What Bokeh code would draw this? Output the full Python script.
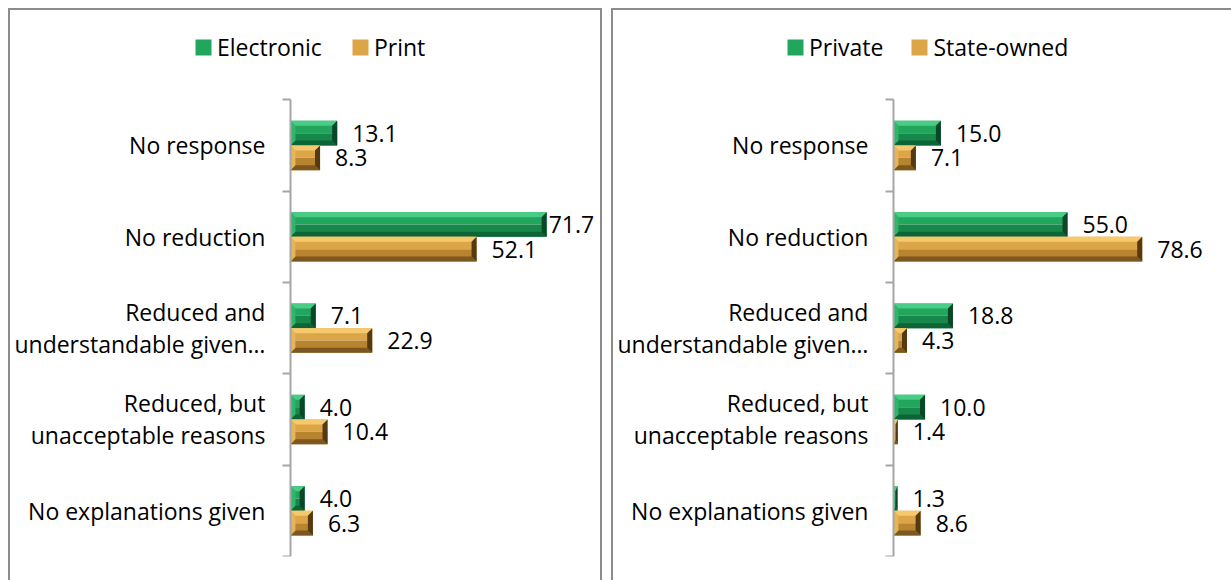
from bokeh.plotting import figure
from bokeh.models import Range1d, FixedTicker, Legend, LegendItem
from bokeh.layouts import row
from bokeh.embed import file_html
from bokeh.resources import INLINE
from bokeh.core.properties import value

# ---------------- data ----------------
categories = [
    "No response",
    "No reduction",
    "Reduced and\nunderstandable given…",
    "Reduced, but\nunacceptable reasons",
    "No explanations given",
]
left_series = ["Electronic", "Print"]
electronic = [13.1, 71.7, 7.1, 4.0, 4.0]
print_media = [8.3, 52.1, 22.9, 10.4, 6.3]

right_series = ["Private", "State-owned"]
private = [15.0, 55.0, 18.8, 10.0, 1.3]
state_owned = [7.1, 78.6, 4.3, 1.4, 8.6]

# ---------------- styles ----------------
FONT = "Open Sans"
FS = "23px"
GREEN = dict(face="#22a65d", face2="#16894a", top="#48cc86", bottom="#0d6436",
             left="#2fb56c", right="#0a4726")
GOLD = dict(face="#dca548", face2="#b8842f", top="#f6ca6c", bottom="#7c5720",
            left="#e6b45a", right="#553a11")
BORDER = "#8c8c8c"

OUTER_H = 572
INNER_H = OUTER_H - 2      # only the top border
TOP_PX = 89                # space above the category area (legend lives there)
CAT_H = 455                # height of the category area
BOTTOM = INNER_H - TOP_PX - CAT_H
PLOT_W = 284               # pixel width of the original value axis
BEVEL = 5                  # px
CAT_PX = CAT_H / 5.0
LEGEND_BOTTOM = 51         # legend bottom, px below the inner top


def make_panel(width, side_borders, axis_px, axis_max, names, vals_a, vals_b,
               legend_x, legend_spacing, styles):
    right_px = 2
    inner_w = width - 2 * side_borders
    frame_w = inner_w - right_px
    scale = PLOT_W / axis_max           # px per unit
    x_start = -axis_px / scale
    x_end = (frame_w - axis_px) / scale
    y_top = -0.5 - TOP_PX / CAT_PX
    frame_h = TOP_PX + CAT_H
    p = figure(width=width, height=OUTER_H,
               x_range=Range1d(x_start, x_end), y_range=Range1d(4.5, y_top),
               x_axis_location=None, output_backend="svg", toolbar_location=None,
               min_border_left=0, min_border_right=right_px,
               min_border_top=0, min_border_bottom=BOTTOM)
    p.styles = styles
    p.outline_line_color = None
    p.xgrid.visible = False
    p.ygrid.visible = False
    p.background_fill_color = "white"
    p.border_fill_color = "white"

    ax = p.yaxis[0]
    ax.fixed_location = 0
    ax.bounds = (-0.5, 4.5)
    ax.ticker = FixedTicker(ticks=[0, 1, 2, 3, 4], minor_ticks=[-0.5, 0.5, 1.5, 2.5, 3.5, 4.5])
    ax.major_label_overrides = {i: c for i, c in enumerate(categories)}
    ax.major_tick_out = 0
    ax.major_tick_in = 0
    ax.minor_tick_out = 8
    ax.minor_tick_in = 0
    ax.minor_tick_line_color = "#a6a6a6"
    ax.minor_tick_line_width = 2
    ax.axis_line_color = "#a6a6a6"
    ax.axis_line_width = 2
    ax.major_label_standoff = 17
    ax.major_label_text_font = FONT
    ax.major_label_text_font_size = FS
    ax.major_label_text_color = "black"
    ax.major_label_text_line_height = 1.0
    ax.major_label_text_align = "center"

    bx_unit = BEVEL / scale
    by = BEVEL / CAT_PX
    h = 0.27
    legend_items = []
    for name, vals, off, col in [(names[0], vals_a, -0.135, GREEN), (names[1], vals_b, 0.135, GOLD)]:
        ys = [i + off for i in range(len(vals))]
        face = p.hbar(y=[y - h / 4 for y in ys], right=vals, left=0, height=h / 2,
                      fill_color=col["face"], line_color=None)
        p.hbar(y=[y + h / 4 for y in ys], right=vals, left=0, height=h / 2,
               fill_color=col["face2"], line_color=None)
        legend_items.append(LegendItem(label=name, renderers=[face]))
        fxs, fys, fcs = [], [], []
        for v, yc in zip(vals, ys):
            t, b = yc - h / 2, yc + h / 2
            bx = min(bx_unit, v / 2)
            ti, bi = t + by, b - by
            fxs += [[0, v, v - bx, bx], [0, v, v - bx, bx], [0, bx, bx, 0], [v, v - bx, v - bx, v]]
            fys += [[t, t, ti, ti], [b, b, bi, bi], [t, ti, bi, b], [t, ti, bi, b]]
            fcs += [col["top"], col["bottom"], col["left"], col["right"]]
        p.patches(xs=fxs, ys=fys, fill_color=fcs, line_color=None)
        # data labels
        offs = [2 if v / axis_max > 0.88 else 15 for v in vals]
        p.text(x=vals, y=ys, text=["%.1f" % v for v in vals], x_offset=offs,
               text_font=value(FONT), text_font_size=FS, text_color="black",
               text_align="left", text_baseline="middle")

    legend = Legend(items=legend_items, orientation="horizontal",
                    location=(legend_x, frame_h - LEGEND_BOTTOM),
                    glyph_width=20, glyph_height=20, label_standoff=4, spacing=legend_spacing,
                    padding=0, margin=0, border_line_color=None, background_fill_alpha=0,
                    label_text_font=FONT, label_text_font_size=FS, label_text_color="black")
    p.add_layout(legend)
    return p


left = make_panel(594, 2, 278, 80, left_series, electronic, print_media, 183, 28,
                  {"border": "2px solid " + BORDER, "border-bottom": "none"})
right = make_panel(620, 1, 279, 90, right_series, private, state_owned, 172, 26,
                   {"border": "2px solid " + BORDER, "border-bottom": "none", "border-right": "none"})

layout = row(left, right, spacing=9, margin=(8, 0, 0, 8))
open("out.html", "w").write(file_html(layout, INLINE))
